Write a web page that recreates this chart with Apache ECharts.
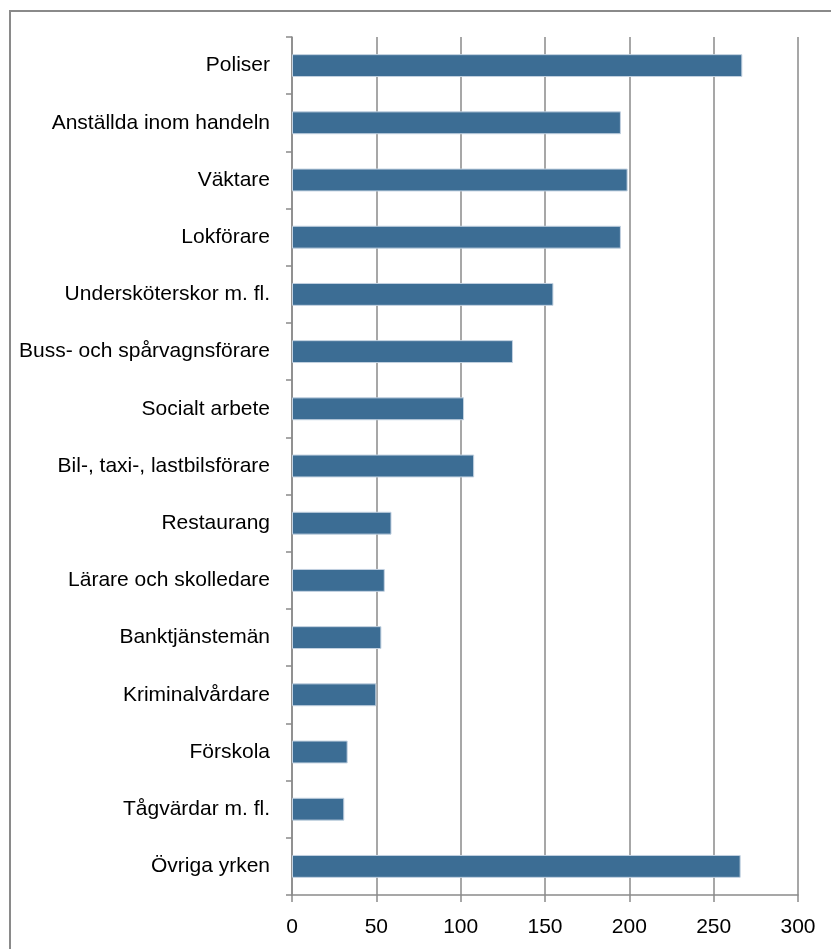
<!DOCTYPE html>
<html>
<head>
<meta charset="utf-8">
<script src="https://cdn.jsdelivr.net/npm/echarts@6/dist/echarts.min.js"></script>
<style>
html,body{margin:0;padding:0;background:#fff;}
#frame{position:absolute;left:9px;top:10px;width:840px;height:960px;border:2px solid #8a8a8a;box-sizing:border-box;}
#chart{position:absolute;left:0;top:0;width:831px;height:949px;}
</style>
</head>
<body>
<div id="frame"></div>
<div id="chart"></div>
<script>
const categories = [
  "Poliser",
  "Anställda inom handeln",
  "Väktare",
  "Lokförare",
  "Undersköterskor m. fl.",
  "Buss- och spårvagnsförare",
  "Socialt arbete",
  "Bil-, taxi-, lastbilsförare",
  "Restaurang",
  "Lärare och skolledare",
  "Banktjänstemän",
  "Kriminalvårdare",
  "Förskola",
  "Tågvärdar m. fl.",
  "Övriga yrken"
];
const values = [267, 195, 199, 195, 155, 131, 102, 108, 59, 55, 53, 50, 33, 31, 266];
const xTicks = { min: 0, max: 300, interval: 50 };

const chart = echarts.init(document.getElementById('chart'), null, { renderer: 'canvas' });
const axisGray = '#8a8a8a';
const font = '"Liberation Sans", Arial, sans-serif';
chart.setOption({
  backgroundColor: 'transparent',
  animation: false,
  grid: { left: 292, right: 33, top: 37, bottom: 54, containLabel: false },
  xAxis: {
    type: 'value',
    min: xTicks.min, max: xTicks.max, interval: xTicks.interval,
    axisLine: { show: true, lineStyle: { color: axisGray, width: 1.5 } },
    axisTick: { show: true, length: 7, lineStyle: { color: axisGray, width: 1.5 } },
    splitLine: { show: true, lineStyle: { color: axisGray, width: 1.5 } },
    axisLabel: { color: '#000', fontFamily: font, fontSize: 21, margin: 22 }
  },
  yAxis: {
    type: 'category',
    data: categories,
    inverse: true,
    boundaryGap: true,
    axisLine: { show: true, lineStyle: { color: axisGray, width: 1.5 } },
    axisTick: { show: true, length: 6, lineStyle: { color: axisGray, width: 1.5 } },
    splitLine: { show: false },
    axisLabel: { color: '#000', fontFamily: font, fontSize: 21, margin: 22, interval: 0 }
  },
  series: [{
    type: 'bar',
    data: values,
    barWidth: '40%',
    itemStyle: { color: '#3C6D94', borderColor: '#c3d2e1', borderWidth: 1 }
  }]
});
</script>
</body>
</html>
